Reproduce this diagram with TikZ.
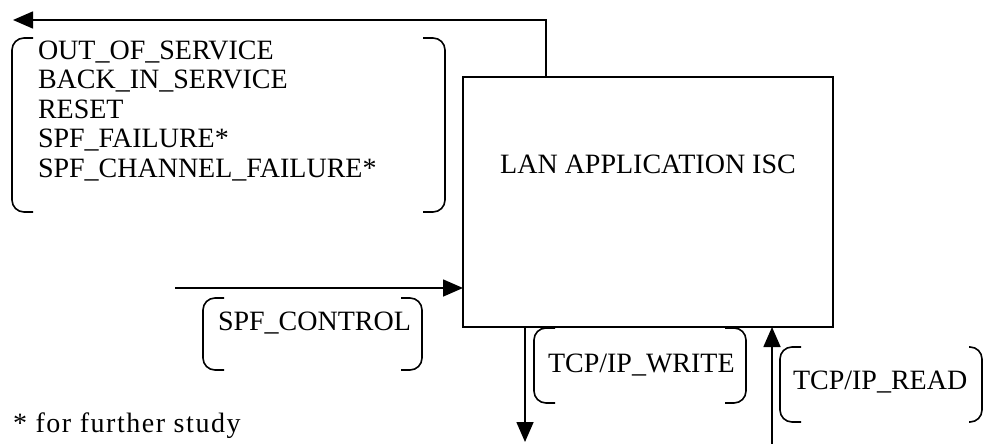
\documentclass[tikz,border=0pt]{standalone}
\usepackage{fontspec}
\setmainfont{Liberation Serif}
\usetikzlibrary{arrows.meta,calc}
\begin{document}
\begin{tikzpicture}[x=1pt,y=-1pt,
  line/.style={line width=1.6pt},
  arr/.style={line, -{Triangle[length=20pt,width=17pt]}},
  lbl/.style={inner sep=0pt, outer sep=0pt, font=\fontsize{28}{29.5}\selectfont},
  brk/.style={line, rounded corners=12pt},
  area/.style={inner sep=0pt, outer sep=0pt, anchor=north west},
  isbox/.style={draw, line, inner sep=0pt, outer sep=0pt, anchor=north west, minimum width=370pt, minimum height=250pt}]
\useasboundingbox (0,0) rectangle (985,444);
% main box
\node[isbox] (isc) at (463,77) {};
\node[lbl, anchor=base] (isctext) at (648,173) {LAN APPLICATION ISC};
% bracket areas
\node[area, minimum width=433pt, minimum height=174pt] (g1) at (12,38) {};
\node[area, minimum width=219pt, minimum height=72pt] (g2) at (203,298) {};
\node[area, minimum width=212pt, minimum height=75pt] (g3) at (534,328) {};
\node[area, minimum width=202pt, minimum height=75pt] (g4) at (780,347) {};
% brackets
\foreach \g/\s in {g1/21,g2/21,g3/21,g4/21}{
  \draw[brk] ($(\g.north west)+(\s,0)$) -- (\g.north west) -- (\g.south west) -- ($(\g.south west)+(\s,0)$);
}
\foreach \g/\s in {g1/22,g2/21,g3/21,g4/13}{
  \draw[brk] ($(\g.north east)+(-\s,0)$) -- (\g.north east) -- (\g.south east) -- ($(\g.south east)+(-\s,0)$);
}
% texts
\node[lbl, anchor=base west, align=left] (t1) at (38,177.3) {OUT\_OF\_SERVICE\\BACK\_IN\_SERVICE\\RESET\\SPF\_FAILURE*\\SPF\_CHANNEL\_FAILURE*};
\node[lbl, anchor=base west] (t2) at (218,330) {SPF\_CONTROL};
\node[lbl, anchor=base west] (t3) at (548,372) {TCP/IP\_WRITE};
\node[lbl, anchor=base west] (t4) at (793,389) {TCP/IP\_READ};
\node[lbl, anchor=base west] (note) at (13,432) {\addfontfeature{LetterSpace=5.5}* for further study};
% connectors
\coordinate (topend) at (13,20);
\coordinate (spfstart) at (175,288);
\coordinate (writeend) at (525,442);
\coordinate (readstart) at (772,444);
\draw[arr] ($(isc.north west)+(83,0)$) |- (topend);
\draw[arr] (spfstart) -- (isc.west |- spfstart);
\draw[arr] (isc.south -| writeend) -- (writeend);
\draw[arr] (readstart) -- (isc.south -| readstart);
\end{tikzpicture}
\end{document}
